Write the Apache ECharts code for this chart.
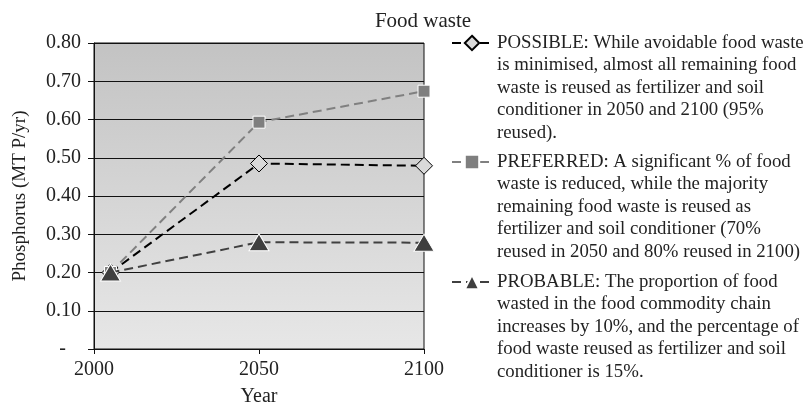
<!DOCTYPE html>
<html>
<head>
<meta charset="utf-8">
<script src="https://cdn.jsdelivr.net/npm/echarts@6/dist/echarts.min.js"></script>
<style>
html,body{margin:0;padding:0;background:#fff;}
#chart{width:808px;height:406px;}
</style>
</head>
<body>
<div id="chart"></div>
<script>
const titleText = 'Food waste';
const xAxisName = 'Year';
const yAxisName = 'Phosphorus (MT P/yr)';
const years = [2005, 2050, 2100];
const xTickValues = [2000, 2050, 2100];
const yTickValues = [0, 0.1, 0.2, 0.3, 0.4, 0.5, 0.6, 0.7, 0.8];
const seriesNames = ['POSSIBLE', 'PREFERRED', 'PROBABLE'];
const possible = [0.20, 0.485, 0.479];
const preferred = [0.20, 0.593, 0.674];
const probable = [0.20, 0.279, 0.278];
const legendTexts = [
  'POSSIBLE: While avoidable food waste\nis minimised, almost all remaining food\nwaste is reused as fertilizer and soil\nconditioner in 2050 and 2100 (95%\nreused).',
  'PREFERRED: A significant % of food\nwaste is reduced, while the majority\nremaining food waste is reused as\nfertilizer and soil conditioner (70%\nreused in 2050 and 80% reused in 2100)',
  'PROBABLE: The proportion of food\nwasted in the food commodity chain\nincreases by 10%, and the percentage of\nfood waste reused as fertilizer and soil\nconditioner is 15%.'
];

const FONT = 'Liberation Serif';
const LH = 22.4;
const ITEM_H = 18;
const iconCenters = [43, 162, 282];

function pairs(vals){ return years.map((y,i)=>[y, vals[i]]); }

const chart = echarts.init(document.getElementById('chart'), null, {renderer:'canvas'});

const legends = seriesNames.map((name, i) => {
  const nLines = legendTexts[i].split('\n').length;
  const padded = '\n'.repeat(nLines - 1) + legendTexts[i];
  const totalH = (2 * nLines - 1) * LH;
  return {
    data: [name],
    left: 451,
    top: iconCenters[i] - totalH / 2,
    padding: 0,
    itemWidth: 40,
    itemHeight: ITEM_H,
    itemGap: 0,
    itemTextGap: 17,
    selectedMode: false,
    formatter: () => padded,
    textStyle: {
      fontFamily: FONT,
      fontSize: 18.8,
      color: '#222',
      lineHeight: LH
    }
  };
});

const option = {
  animation: false,
  backgroundColor: '#fff',
  title: {
    text: titleText,
    left: 418,
    top: 6,
    textAlign: 'center',
    textStyle: { fontFamily: FONT, fontSize: 21, fontWeight: 'normal', color: '#222' }
  },
  legend: legends,
  grid: {
    left: 94, right: 384, top: 43, bottom: 57,
    outerBoundsMode: 'none',
    containLabel: false,
    show: true,
    borderColor: '#111',
    borderWidth: 1,
    backgroundColor: new echarts.graphic.LinearGradient(0, 0, 0, 1, [
      { offset: 0, color: '#c3c3c3' },
      { offset: 1, color: '#e7e7e7' }
    ])
  },
  xAxis: {
    type: 'value',
    min: xTickValues[0],
    max: xTickValues[xTickValues.length - 1],
    interval: 50,
    name: xAxisName,
    nameLocation: 'middle',
    nameGap: 38,
    nameTextStyle: { fontFamily: FONT, fontSize: 20, color: '#222' },
    axisLine: { show: true, lineStyle: { color: '#111', width: 1 } },
    axisTick: { show: true, length: 5, lineStyle: { color: '#111' } },
    splitLine: { show: false },
    axisLabel: { fontFamily: FONT, fontSize: 20, color: '#222', margin: 11, formatter: v => String(v) }
  },
  yAxis: {
    type: 'value',
    min: 0,
    max: 0.8,
    interval: 0.1,
    name: yAxisName,
    nameLocation: 'middle',
    nameGap: 64,
    nameTextStyle: { fontFamily: FONT, fontSize: 19, color: '#222' },
    axisLine: { show: true, lineStyle: { color: '#111', width: 1 } },
    axisTick: { show: true, inside: false, length: 6, lineStyle: { color: '#111' } },
    splitLine: { show: true, lineStyle: { color: '#111', width: 1 } },
    axisLabel: {
      fontFamily: FONT, fontSize: 20, color: '#222', margin: 13,
      formatter: v => (Math.abs(v) < 1e-9 ? '-   ' : v.toFixed(2))
    }
  },
  series: [
    {
      name: seriesNames[0], type: 'line', data: pairs(possible),
      symbol: 'diamond', symbolSize: 17,
      lineStyle: { color: '#000', width: 2, type: [9, 5] },
      itemStyle: { color: '#d9d9d9', borderColor: '#000', borderWidth: 1 },
      z: 2
    },
    {
      name: seriesNames[1], type: 'line', data: pairs(preferred),
      symbol: 'rect', symbolSize: 12,
      lineStyle: { color: '#808080', width: 2, type: [9, 5] },
      itemStyle: { color: '#7f7f7f', borderColor: '#fff', borderWidth: 1 },
      z: 3
    },
    {
      name: seriesNames[2], type: 'line', data: pairs(probable),
      symbol: 'triangle', symbolSize: [20, 17],
      lineStyle: { color: '#404040', width: 2, type: [9, 5] },
      itemStyle: { color: '#3f3f3f', borderColor: '#fff', borderWidth: 1 },
      z: 4
    }
  ]
};
chart.setOption(option);
</script>
</body>
</html>
